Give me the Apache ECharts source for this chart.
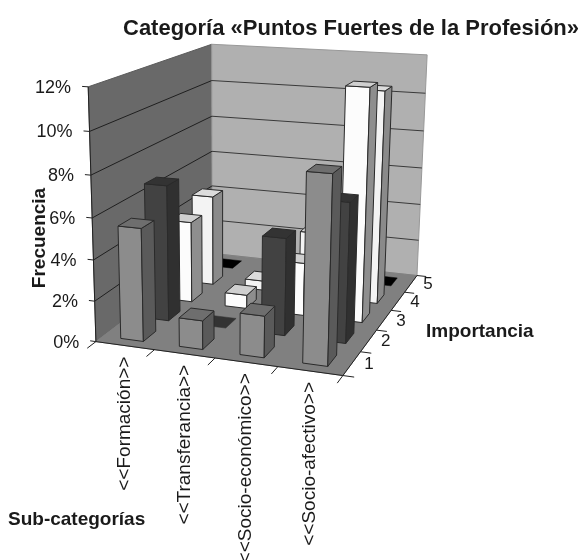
<!DOCTYPE html>
<html><head><meta charset="utf-8">
<style>html,body{margin:0;padding:0;background:#fff}#c{width:579px;height:560px}</style>
<script src="https://cdn.jsdelivr.net/npm/echarts@6/dist/echarts.min.js"></script>
</head><body><div id="c"></div>
<script>
const titleText = 'Categoría «Puntos Fuertes de la Profesión»';
const categories = ['<<Formación>>','<<Transferancia>>','<<Socio-económico>>','<<Socio-afectivo>>'];
const importanceLevels = ['1','2','3','4','5'];
const percentTicks = [0,2,4,6,8,10,12];
const importance1 = [5.5,1.4,2.0,8.8];
const importance2 = [6.8,0,4.8,6.8];
const importance3 = [4.2,0.7,2.7,11.55];
const importance4 = [4.8,0.5,3.4,10.9];
const importance5 = [0,0,0,0];

const W = 579, H = 560;
// camera calibration: box fractions -> picture, fitted below by least squares
const camera = [
 [0,0,0,96,341],[1,0,0,343,376],[1,1,0,417,275],[0,1,0,212,254],
 [0,0,1,88,87],[0,1,1,212,44],[1,1,1,427,55]
];
function solveCamera(pts){
  const A=[],b=[];
  pts.forEach(([X,Y,Z,x,y])=>{
    A.push([X,Y,Z,1,0,0,0,0,-x*X,-x*Y,-x*Z]);b.push(x);
    A.push([0,0,0,0,X,Y,Z,1,-y*X,-y*Y,-y*Z]);b.push(y);
  });
  const n=11,M=[];
  for(let i=0;i<n;i++){M.push([]);for(let j=0;j<=n;j++){let s=0;
    for(let k=0;k<A.length;k++)s+=A[k][i]*(j<n?A[k][j]:b[k]);M[i].push(s);}}
  for(let i=0;i<n;i++){let p=i;for(let r=i+1;r<n;r++)if(Math.abs(M[r][i])>Math.abs(M[p][i]))p=r;
    [M[i],M[p]]=[M[p],M[i]];
    for(let r=0;r<n;r++){if(r===i)continue;const f=M[r][i]/M[i][i];for(let c=i;c<=n;c++)M[r][c]-=f*M[i][c];}}
  return M.map((r,i)=>r[n]/r[i]);
}
const P = solveCamera(camera);
function project(u,v,w){
  const d=P[8]*u+P[9]*v+P[10]*w+1;
  return [(P[0]*u+P[1]*v+P[2]*w+P[3])/d,(P[4]*u+P[5]*v+P[6]*w+P[7])/d];
}
const chart = echarts.init(document.getElementById('c'),null,{renderer:'canvas'});
// Library scales: cat -> fraction, importance -> fraction, percent -> fraction
const fu = c => chart.convertToPixel({xAxisIndex:0},c)/W;
const fv = i => chart.convertToPixel({xAxisIndex:1},i)/W;
const fw = p => (H-chart.convertToPixel({yAxisIndex:0},p))/H;
const pt = (c,i,p)=>project(fu(c),fv(i),fw(p));

const barHalfW = 0.195, barHalfD = 0.24;
const inkColor = '#1a1a1a';
const poly=(pts,fill,stroke,lw)=>({type:'polygon',shape:{points:pts},style:{fill:fill,stroke:stroke||'#2a2a2a',lineWidth:lw==null?1:lw}});
const line=(a,b,stroke,lw)=>({type:'line',shape:{x1:a[0],y1:a[1],x2:b[0],y2:b[1]},style:{stroke:stroke||'#222',lineWidth:lw||1}});

function renderScene(){
  const ch=[];
  const nC=categories.length,nI=importanceLevels.length,top=percentTicks[percentTicks.length-1];
  ch.push(poly([pt(0,0,0),pt(0,nI,0),pt(0,nI,top),pt(0,0,top)],'#696969','#5c5c5c'));
  ch.push(poly([pt(0,nI,0),pt(nC,nI,0),pt(nC,nI,top),pt(0,nI,top)],'#b0b0b0','#999'));
  ch.push(poly([pt(0,0,0),pt(nC,0,0),pt(nC,nI,0),pt(0,nI,0)],'#808080','#808080'));
  percentTicks.forEach(p=>{
    if(p>0&&p<top){
      ch.push(line(pt(0,0,p),pt(0,nI,p),'#1f1f1f',1));
      ch.push(line(pt(0,nI,p),pt(nC,nI,p),'#3a3a3a',1));
    }
    const a=pt(0,0,p),b=pt(-0.1,0,p);
    ch.push(line(a,b,'#222',1));
    ch.push({type:'text',x:b[0]-11,y:a[1]+1,style:{text:p+'%',fill:inkColor,font:'18px "Liberation Sans"',align:'right',verticalAlign:'middle'}});
  });
  ch.push(line(pt(0,0,0),pt(0,0,top),'#222',1));
  ch.push(line(pt(0,0,0),pt(nC,0,0),'#222',1));
  ch.push(line(pt(nC,0,0),pt(nC,nI,0),'#222',1));
  for(let c=0;c<=nC;c++){const a=pt(c,0,0);ch.push(line(a,pt(c,-0.3,0),'#222',1));}
  for(let i=0;i<=nI;i++){const a=pt(nC,i,0);ch.push(line(a,pt(nC+0.17,i,0),'#222',1));}
  categories.forEach((t,c)=>{const a=pt(c+0.5,0,0);
    ch.push({type:'text',x:a[0],y:a[1]+11,rotation:Math.PI/2,style:{text:t,fill:inkColor,font:'19px "Liberation Sans"',align:'right',verticalAlign:'middle'}});});
  importanceLevels.forEach((t,i)=>{const a=pt(nC,i+0.5,0);
    ch.push({type:'text',x:a[0]+17,y:a[1]+1,style:{text:t,fill:inkColor,font:'17px "Liberation Sans"',align:'center',verticalAlign:'middle'}});});
  return {type:'group',children:ch};
}
const palette=[
 {front:'#8c8c8c',side:'#5a5a5a',top:'#6e6e6e'},
 {front:'#424242',side:'#303030',top:'#333333'},
 {front:'#fcfcfc',side:'#8e8e8e',top:'#cfcfcf'},
 {front:'#f3f3f3',side:'#8a8a8a',top:'#dcdcdc'},
 {front:'#1a1a1a',side:'#000000',top:'#000000'}
];
function renderBar(params,api){
  const c=api.value(0),i=api.value(1),val=api.value(2),col=palette[i];
  const uc=c+0.5,vc=i+0.5;
  const x0=uc-barHalfW,x1=uc+barHalfW,y0=vc-barHalfD,y1=vc+barHalfD;
  const top=[pt(x0,y0,val),pt(x1,y0,val),pt(x1,y1,val),pt(x0,y1,val)];
  const ch=[];
  if(val>0){
    ch.push(poly([pt(x0,y0,0),pt(x1,y0,0),top[1],top[0]],col.front));
    ch.push(poly([pt(x1,y0,0),pt(x1,y1,0),top[2],top[1]],col.side));
  }
  ch.push(poly(top,col.top,val>0?'#2a2a2a':col.top,val>0?1:0.5));
  return {type:'group',children:ch};
}
const rows=[importance1,importance2,importance3,importance4,importance5];
const barSeries=rows.map((row,i)=>({i,row})).reverse().map(({i,row})=>({
  type:'custom',name:'Importancia '+importanceLevels[i],renderItem:renderBar,clip:false,silent:true,
  encode:{x:0,y:2},xAxisIndex:0,yAxisIndex:0,z:3,
  data:row.map((v,c)=>[c,i,v])
}));
const boldStyle={fill:inkColor,font:'bold 19px "Liberation Sans"'};
chart.setOption({
  animation:false,backgroundColor:'#fff',
  title:{text:titleText,left:118,top:13,textStyle:{fontFamily:'Liberation Sans',fontSize:22,fontWeight:'bold',color:inkColor}},
  tooltip:{show:false},
  grid:{left:0,right:0,top:0,bottom:0,containLabel:false},
  xAxis:[{type:'value',min:0,max:categories.length,show:false},{type:'value',min:0,max:importanceLevels.length,show:false}],
  yAxis:[{type:'value',min:0,max:percentTicks[percentTicks.length-1],show:false}],
  graphic:[
   {type:'text',x:40,y:238,rotation:Math.PI/2,z:10,style:Object.assign({text:'Frecuencia',align:'center',verticalAlign:'middle'},boldStyle)},
   {type:'text',x:426,y:332,z:10,style:Object.assign({text:'Importancia',align:'left',verticalAlign:'middle'},boldStyle)},
   {type:'text',x:8,y:520,z:10,style:Object.assign({text:'Sub-categorías',align:'left',verticalAlign:'middle'},boldStyle)}
  ],
  series:[{type:'custom',name:'Escena',renderItem:renderScene,clip:false,silent:true,encode:{x:0,y:1},z:1,data:[[0,0]]}].concat(barSeries)
});
</script></body></html>
